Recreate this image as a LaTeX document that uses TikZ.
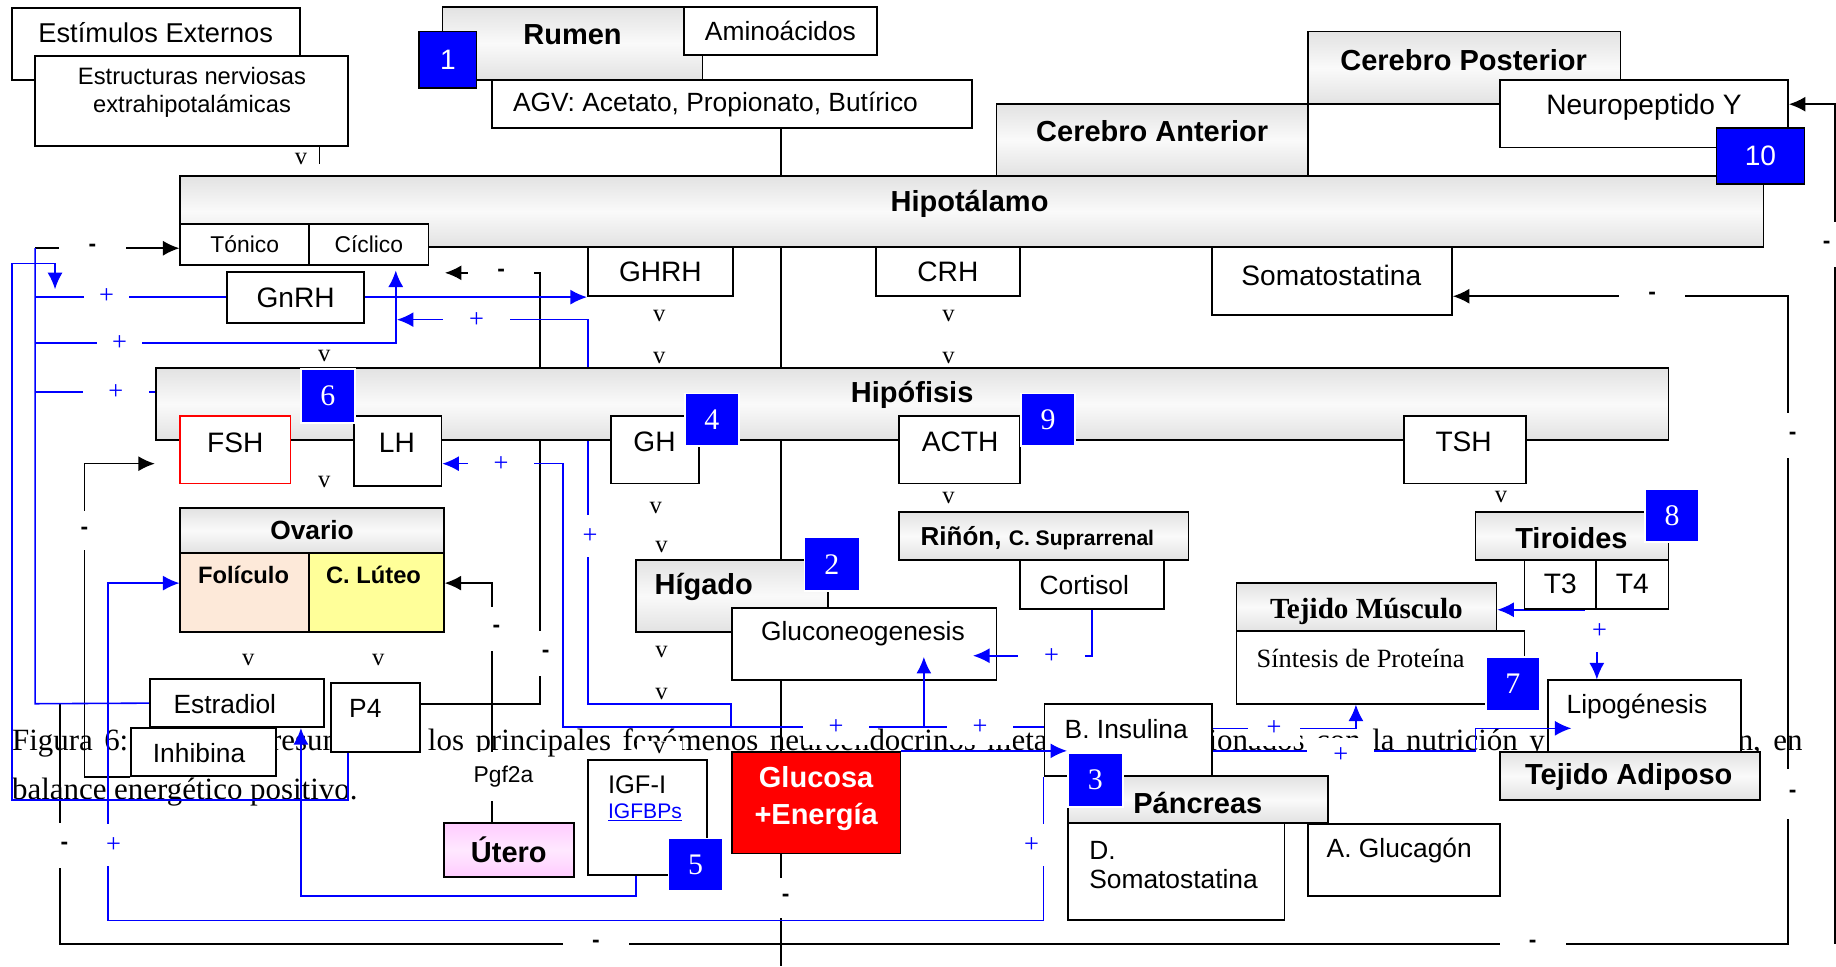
\documentclass[tikz,border=0pt]{standalone}
\usepackage{fontspec}
\setmainfont{Liberation Sans}
\newfontfamily\tnr{Liberation Serif}
\usetikzlibrary{arrows.meta}

\pgfdeclarelayer{bg}
\pgfsetlayers{bg,main}

\definecolor{gboxc}{RGB}{226,226,226}
\definecolor{peach}{RGB}{253,233,217}
\definecolor{lyel}{RGB}{255,255,153}
\definecolor{pinkc}{RGB}{255,204,255}
\definecolor{nblue}{RGB}{0,0,255}

\newcommand\fR{\fontsize{16}{19}\selectfont}
\newcommand\fF{\fontsize{15}{18}\selectfont}
\newcommand\fB{\fontsize{16.5}{19}\selectfont\bfseries}
\newcommand\fS{\fontsize{13.5}{16}\selectfont}

% box from corner (x1,y1) to corner (x2,y2), units of the picture
\newcommand\bx[7][]{\node[box,#1,minimum width={(#5-#3)*0.2342mm},minimum height={(#6-#4)*0.2342mm}] (#2) at ({(#3+#5)/2},{(#4+#6)/2}) {#7};}

\tikzset{
  box/.style={draw,line width=1pt,fill=white,inner sep=0pt,font=\fR},
  gbox/.style={box,top color=gboxc,bottom color=gboxc,middle color=black!2},
  num/.style={box,draw=white,fill=nblue,text=white,font=\tnr\fontsize{17}{19}\selectfont},
  wire/.style={line width=0.9pt},
  bwire/.style={wire,nblue},
  arr/.style={-{Latex[length=3.3mm,width=3mm]}},
  mh/.style={fill=white,inner sep=0pt,minimum width=13.3mm,minimum height=4.7mm,font=\fontsize{13}{13}\selectfont\bfseries},
  mv/.style={mh,minimum width=4.7mm,minimum height=8.9mm},
  ph/.style={fill=white,inner sep=0pt,text=nblue,minimum width=13.3mm,minimum height=7mm,font=\tnr\fontsize{15}{15}\selectfont},
  pv/.style={ph,minimum width=6mm,minimum height=8.4mm},
  vm/.style={fill=white,inner xsep=1mm,inner ysep=0.3mm,font=\tnr\fontsize{14}{14}\selectfont}
}

\begin{document}
\begin{tikzpicture}[x=0.2342mm,y=-0.2342mm]
\useasboundingbox (0,0) rectangle (1568,825);

% top row
\bx{estim}{10}{7}{256}{68}{}
\node[font=\fontsize{15.5}{18}\selectfont] (estim-t) at (133,28) {Estímulos Externos};
\bx{estr}{30}{48}{297}{125}{}
\node[font=\fS,align=center] (estr-t) at (164,79) {Estructuras nerviosas\\extrahipotalámicas};
\bx[gbox]{rumen}{378}{6}{600}{68}{}
\node[font=\fB] (rumen-t) at (489,30) {Rumen};
\bx{amino}{584}{6}{749}{47}{\fF Aminoácidos}
\bx{agv}{420}{68}{830}{109}{}
\node[font=\fF] (agv-t) at (611,89) {AGV: Acetato, Propionato, Butírico};
\bx[num,draw=black,font=\fR]{n1}{358}{27}{407}{75}{1}
\bx[gbox]{cant}{851}{89}{1117}{150}{}
\node[font=\fB] (cant-t) at (984,112) {Cerebro Anterior};
\bx[gbox]{cpost}{1117}{27}{1384}{89}{}
\node[font=\fB] (cpost-t) at (1250,51) {Cerebro Posterior};
\bx{npy}{1281}{68}{1527}{126}{}
\node[font=\fR] (npy-t) at (1404,92) {Neuropeptido Y};

% hipotalamo
\bx[gbox]{hipot}{154}{150}{1506}{211}{}
\node[font=\fB] (hipot-t) at (828,174) {Hipotálamo};
\bx[num,draw=black,font=\fR]{n10}{1466}{109}{1541}{157}{10}
\bx{ton}{154}{191}{264}{226}{\fontsize{13}{15}\selectfont Tónico}
\bx{cic}{264}{191}{366}{226}{\fontsize{13}{15}\selectfont Cíclico}
\bx{gnrh}{194}{232}{311}{276}{GnRH}
\bx{ghrh}{502}{211}{626}{253}{GHRH}
\bx{crh}{748}{211}{871}{253}{CRH}
\bx{soma}{1035}{211}{1240}{269}{}
\node[font=\fR] (soma-t) at (1137,235) {Somatostatina};

% hipofisis
\bx[gbox]{hipof}{133}{314}{1425}{376}{}
\node[font=\fB] (hipof-t) at (779,337) {Hipófisis};
\bx[draw=red]{fsh}{154}{355}{248}{413}{}
\node[font=\fR] (fsh-t) at (201,378) {FSH};
\bx{lh}{302}{355}{377}{415}{}
\node[font=\fR] (lh-t) at (339,378) {LH};
\bx{gh}{522}{355}{597}{413}{}
\node[font=\fR] (gh-t) at (559,377) {GH};
\bx{acth}{768}{355}{871}{413}{}
\node[font=\fR] (acth-t) at (820,377) {ACTH};
\bx{tsh}{1199}{355}{1303}{413}{}
\node[font=\fR] (tsh-t) at (1250,377) {TSH};
\bx[num]{n6}{257}{315}{303}{361}{6}
\bx[num]{n4}{585}{336}{631}{381}{4}
\bx[num]{n9}{872}{336}{918}{381}{9}

% ovario
\bx[gbox]{ovario}{154}{434}{379}{472}{\fontsize{15}{18}\selectfont\bfseries Ovario}
\bx[fill=peach]{fol}{154}{472}{264}{540}{}
\node[font=\fontsize{13.5}{16}\selectfont\bfseries] (fol-t) at (208,491) {Folículo};
\bx[fill=lyel]{lut}{264}{472}{379}{540}{}
\node[font=\fontsize{13.5}{16}\selectfont\bfseries] (lut-t) at (319,491) {C. Lúteo};
\bx{estrad}{128}{580}{277}{621}{}
\node[font=\fF] (estrad-t) at (192,601) {Estradiol};
\bx{inhib}{112}{622}{236}{663}{}
\node[font=\fF] (inhib-t) at (170,643) {Inhibina};
\bx{p4}{283}{583}{359}{642}{}
\node[font=\fF] (p4-t) at (312,605) {P4};
\bx[top color=pinkc,bottom color=pinkc,middle color=pinkc!45]{utero}{379}{703}{490}{749}{\fB Útero}

% higado, glucosa
\bx{igf}{502}{649}{604}{747}{}
\node[anchor=west,font=\fontsize{14.5}{17}\selectfont] (igf-t) at (514,670) {IGF-I};
\node[anchor=west,text=nblue,font=\fontsize{12}{14}\selectfont] (igfbp-t) at (514,694) {\underline{IGFBPs}};
\bx[num]{n5}{571}{716}{617}{761}{5}
\bx[fill=red]{glu}{625}{642}{769}{729}{}
\node[text=white,align=center,font=\fontsize{16.5}{20.6}\selectfont\bfseries] (glu-t) at (697,682) {Glucosa\\+Energía};
\bx[gbox]{hig}{543}{478}{707}{540}{}
\node[font=\fB] (hig-t) at (601,501) {Hígado};
\bx{glucn}{625}{519}{851}{581}{}
\node[font=\fF] (glucn-t) at (737,541) {Gluconeogenesis};
\bx[num]{n2}{687}{459}{734}{505}{2}
\bx[gbox]{rin}{768}{437}{1015}{478}{}
\node[anchor=west,font=\bfseries] (rin-t) at (781,460) {\fontsize{14.8}{17}\selectfont Riñón, \fontsize{12}{14}\selectfont C. Suprarrenal};
\bx{cort}{871}{478}{994}{520}{}
\node[font=\fF] (cort-t) at (926,500) {Cortisol};

% pancreas
\bx{bins}{892}{601}{1035}{663}{}
\node[anchor=west,font=\fF] (bins-t) at (904,623) {B. Insulina};
\bx[gbox]{panc}{912}{663}{1134}{703}{}
\node[font=\fB] (panc-t) at (1023,686) {Páncreas};
\bx[num]{n3}{912}{643}{959}{689}{3}
\bx{dsom}{912}{703}{1097}{786}{}
\node[anchor=west,font=\fF] (dsom-t1) at (925,726) {D.};
\node[anchor=west,font=\fF] (dsom-t2) at (925,751) {Somatostatina};
\bx{aglu}{1117}{704}{1281}{765}{}
\node[font=\fF] (aglu-t) at (1195,726) {A. Glucagón};

% tiroides, musculo, adiposo
\bx[gbox]{tiro}{1260}{437}{1425}{478}{}
\node[font=\fB] (tiro-t) at (1342,460) {Tiroides};
\bx[num]{n8}{1405}{418}{1451}{463}{8}
\bx{t3}{1302}{478}{1363}{520}{T3}
\bx{t4}{1363}{478}{1425}{520}{T4}
\bx[gbox]{tm}{1056}{498}{1278}{539}{}
\node[font=\tnr\fontsize{16.6}{19}\selectfont\bfseries] (tm-t) at (1167,522) {Tejido Músculo};
\bx{sint}{1056}{539}{1302}{601}{}
\node[font=\tnr\fontsize{15}{18}\selectfont] (sint-t) at (1162,562) {Síntesis de Proteína};
\bx[num]{n7}{1269}{561}{1315}{607}{7}
\bx{lipo}{1322}{581}{1487}{642}{}
\node[font=\fF] (lipo-t) at (1398,603) {Lipogénesis};
\bx[gbox]{adip}{1281}{642}{1503}{683}{}
\node[font=\fB] (adip-t) at (1391,664) {Tejido Adiposo};

% corners of the connectors
\coordinate (c-tl) at (30,212);
\coordinate (c-e1) at (30,601);
\coordinate (c-e2) at (51,601);
\coordinate (c-bl) at (51,806);
\coordinate (c-br) at (1527,806);
\coordinate (c-so) at (1527,253);
\coordinate (c-ob) at (1567,806);
\coordinate (c-ot) at (1567,89);
\coordinate (c-ci) at (338,293);
\coordinate (c-hp) at (30,335);
\coordinate (c-p4) at (461,601);
\coordinate (c-cy) at (380,233);
\coordinate (c-ut) at (420,498);
\coordinate (c-in) at (72,396);
\coordinate (c-ce) at (667,825);
\coordinate (c-st) at (273,140);
\coordinate (c-p5) at (297,683);
\coordinate (c-u1) at (10,225);
\coordinate (c-u2) at (47,247);
\coordinate (c-lh) at (481,621);
\coordinate (c-gr) at (502,601);
\coordinate (c-g3) at (339,273);
\coordinate (c-gn) at (789,561);
\coordinate (c-co) at (831,560);
\coordinate (c-si) at (1158,622);
\coordinate (c-li) at (1260,622);
\coordinate (c-l2) at (1342,622);
\coordinate (c-ig) at (543,765);
\coordinate (c-es) at (257,765);
\coordinate (c-fo) at (92,786);

\begin{pgfonlayer}{bg}
% caption behind the picture
\node[anchor=base west,inner sep=0pt,font=\tnr\fontsize{17.6}{20}\selectfont] (cap1) at (10,641)
  {\makebox[358.1mm][s]{Figura 6: Esquema resumen de los principales fenómenos neuroendocrinos metabólicos relacionados con la nutrición y la reproducción, en}};
\node[anchor=base west,inner sep=0pt,font=\tnr\fontsize{17.6}{20}\selectfont] (cap2) at (10,683) {balance energético positivo.};

% black connectors
\draw[wire] (c-st |- estr.south) -- (c-st);
\draw[wire] (c-ce |- agv.south) -- (c-ce);
\draw[wire,arr] (c-tl) -- (c-tl -| ton.west);
\draw[wire,arr] (c-e2) -- (c-bl) -- (c-br) -- (c-so) -- (c-so -| soma.east);
\draw[wire,arr] (c-ob) -- (c-ot) -- (c-ot -| npy.east);
\draw[wire,arr] (p4.east |- c-p4) -- (c-p4) |- (c-cy);
\draw[wire,arr] (c-ut |- utero.north) -- (c-ut) -- (c-ut -| lut.east);
\draw[wire,arr] (inhib.south west) -| (c-in) -- (c-in -| hipof.west);

% blue connectors
\draw[bwire] (estrad.west) -- (c-e1) -- (c-tl);
\draw[bwire,arr] (c-e1 |- ghrh.south) -- (ghrh.south west);
\draw[bwire,arr] (c-e1 |- c-ci) -- (c-ci) -- ([yshift=-1mm]c-ci |- cic.south);
\draw[bwire] (c-hp) -- (c-hp -| hipof.west);
\draw[bwire,arr] (c-p5 |- p4.south) -- (c-p5) -| (c-u1) -| (c-u2);
\draw[bwire,arr] (bins.west |- c-lh) -- (c-lh) |- (lh.east |- c-in);
\draw[bwire,arr] (glucn.south west |- c-lh) -- (glucn.south west |- c-gr) -- (c-gr) |- (c-g3);
\draw[bwire,arr] (bins.east |- c-si) -- (c-si) -- (c-si |- sint.south);
\draw[bwire,arr] (t3.south east) -- (tm.east |- t3.south east);
\draw[bwire,arr] (t3.south east) -- (t3.south east |- lipo.north);
\draw[bwire,arr] (c-ig |- igf.south) -- (c-ig) -- (c-es) -- (c-es |- estrad.south);
\draw[bwire,arr] (bins.south west) -- (bins.south west |- c-fo) -- (c-fo) -- (c-fo |- c-ut) -- (fol.west |- c-ut);

% signs on the connectors
\node[mh] (m1) at (79,212) {-};
\node[mh] (m2) at (428,233) {-};
\node[mh] (m3) at (1411,253) {-};
\node[mh] (m4) at (509,806) {-};
\node[mh] (m5) at (1309,806) {-};
\node[mv] (m6) at (1560,209) {-};
\node[mv] (m7) at (1531,372) {-};
\node[mv,minimum height=10mm] (m8) at (1531,678) {-};
\node[mv] (m9) at (466,558) {-};
\node[mv] (m10) at (424,537) {-};
\node[mv,minimum height=7.7mm] (m11) at (72,453) {-};
\node[mv] (m12) at (55,722) {-};
\node[mv,minimum height=8.1mm] (m13) at (671,767) {-};
\node[ph,minimum width=9.1mm] (p1) at (91,253) {+};
\node[ph,minimum width=9.1mm] (p2) at (102,293) {+};
\node[ph] (p3) at (99,335) {+};
\node[ph] (p4s) at (407,273) {+};
\node[ph] (p5) at (428,396) {+};
\node[ph] (p6) at (714,621) {+};
\node[ph] (p7) at (837,621) {+};
\node[ph,minimum width=10.5mm] (p8) at (1088,622) {+};
\node[pv] (p9) at (504,458) {+};
\node[pv] (p10) at (1366,539) {+};
\node[pv,minimum width=7mm] (p11) at (97,722) {+};
\node[pv,minimum width=9mm] (p12) at (881,722) {+};
\node[fill=white,inner xsep=0.5mm,minimum height=9.8mm,font=\fontsize{13}{15}\selectfont] (pgf) at (430,663) {Pgf2a};

% v marks
\node[vm] (v1) at (257,136) {v};
\node[vm] (v2) at (277,304) {v};
\node[vm] (v3) at (277,412) {v};
\node[vm] (v4) at (563,270) {v};
\node[vm] (v5) at (563,306) {v};
\node[vm] (v6) at (810,270) {v};
\node[vm] (v7) at (810,306) {v};
\node[vm] (v8) at (560,434) {v};
\node[vm] (v9) at (565,467) {v};
\node[vm] (v10) at (565,557) {v};
\node[vm] (v11) at (565,593) {v};
\node[vm,minimum width=9mm] (v12) at (563,639) {v};
\node[vm] (v13) at (810,425) {v};
\node[vm] (v14) at (1282,424) {v};
\node[vm] (v15) at (212,564) {v};
\node[vm] (v16) at (323,564) {v};
\end{pgfonlayer}

% arrows that end inside a box
\draw[bwire,arr] (glu.north east) -- (n3.west |- glu.north east);
\draw[bwire,arr] (c-gn |- c-lh) -- (c-gn);
\draw[bwire,arr] (cort.south) |- (c-co);
\node[ph] (p13) at (898,560) {+};
\draw[bwire,arr] (bins.east |- glu.north) -| (c-li) -- (c-l2);
\node[ph] (p14) at (1145,645) {+};
\end{tikzpicture}
\end{document}
